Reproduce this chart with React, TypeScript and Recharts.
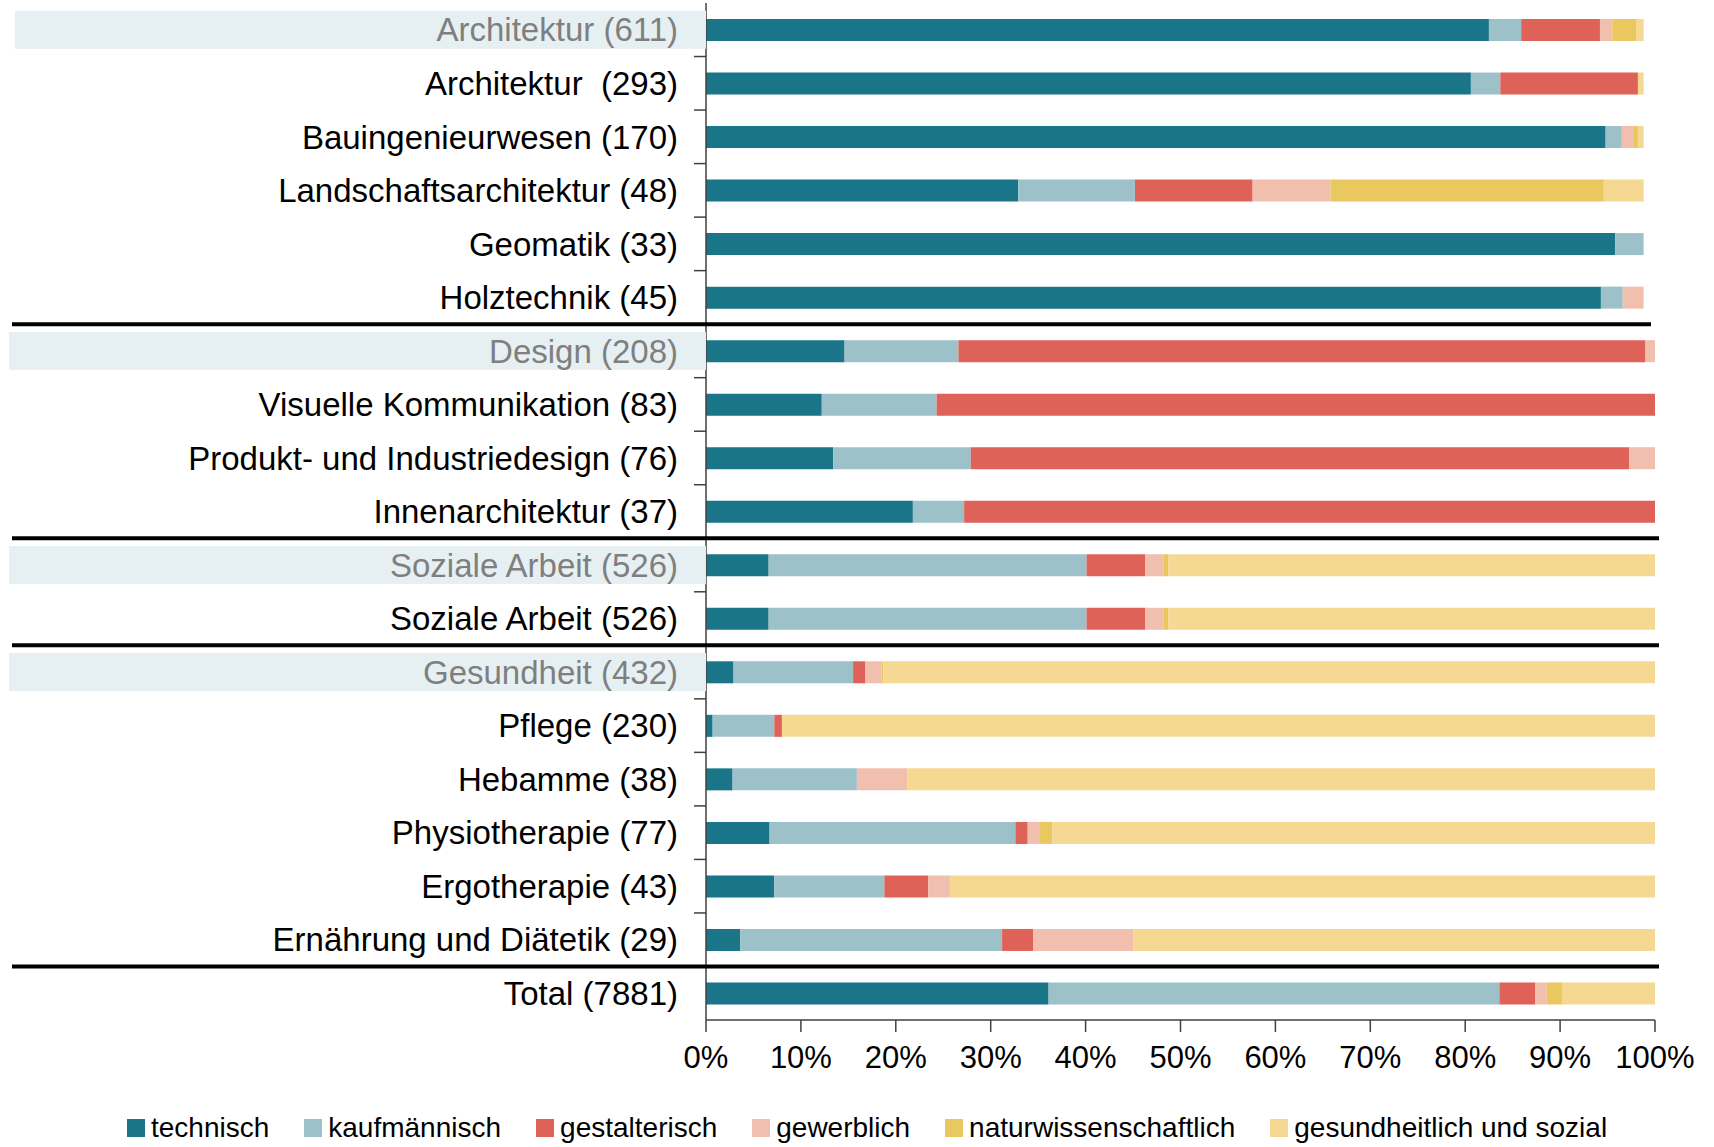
import React from 'react';
import { BarChart, Bar, XAxis, YAxis, Legend } from 'recharts';

const categories = [
  'Architektur (611)',
  'Architektur\u00a0 (293)',
  'Bauingenieurwesen (170)',
  'Landschaftsarchitektur (48)',
  'Geomatik (33)',
  'Holztechnik (45)',
  'Design (208)',
  'Visuelle Kommunikation (83)',
  'Produkt- und Industriedesign (76)',
  'Innenarchitektur (37)',
  'Soziale Arbeit (526)',
  'Soziale Arbeit (526) ',
  'Gesundheit (432)',
  'Pflege (230)',
  'Hebamme (38)',
  'Physiotherapie (77)',
  'Ergotherapie (43)',
  'Ernährung und Diätetik (29)',
  'Total (7881)',
];

const headerRows = [0, 6, 10, 12];
const separatorAfterRows = [5, 9, 11, 17];

const technisch = [82.5, 80.6, 94.8, 32.9, 95.8, 94.3, 14.6, 12.2, 13.4, 21.8, 6.6, 6.6, 2.9, 0.7, 2.8, 6.7, 7.2, 3.6, 36.1];
const kaufmaennisch = [3.4, 3.1, 1.7, 12.3, 3.0, 2.3, 12.0, 12.1, 14.5, 5.4, 33.5, 33.5, 12.6, 6.5, 13.1, 25.9, 11.6, 27.6, 47.5];
const gestalterisch = [8.3, 14.5, 0, 12.4, 0, 0, 72.4, 75.7, 69.4, 72.8, 6.2, 6.2, 1.3, 0.8, 0, 1.3, 4.6, 3.3, 3.8];
const gewerblich = [1.3, 0, 1.2, 8.2, 0, 2.2, 1.0, 0, 2.7, 0, 1.9, 1.9, 1.7, 0, 5.3, 1.3, 2.3, 10.5, 1.2];
const naturwissenschaftlich = [2.5, 0, 0.5, 28.8, 0, 0, 0, 0, 0, 0, 0.5, 0.5, 0.2, 0, 0, 1.3, 0, 0, 1.6];
const gesundheitlich = [0.8, 0.6, 0.6, 4.2, 0, 0, 0, 0, 0, 0, 51.3, 51.3, 81.3, 92.0, 78.8, 63.5, 74.3, 55.0, 9.8];

const xTicks = [0, 10, 20, 30, 40, 50, 60, 70, 80, 90, 100];

const series = [
  { key: 'technisch', label: 'technisch', color: '#1a7588', values: technisch },
  { key: 'kaufmaennisch', label: 'kaufmännisch', color: '#9dc1c9', values: kaufmaennisch },
  { key: 'gestalterisch', label: 'gestalterisch', color: '#df6258', values: gestalterisch },
  { key: 'gewerblich', label: 'gewerblich', color: '#f1bfae', values: gewerblich },
  { key: 'naturwissenschaftlich', label: 'naturwissenschaftlich', color: '#e9c860', values: naturwissenschaftlich },
  { key: 'gesundheitlich', label: 'gesundheitlich und sozial', color: '#f5d892', values: gesundheitlich },
];

const data = categories.map((name, i) => {
  const row: Record<string, any> = { name };
  series.forEach((s) => {
    row[s.key] = s.values[i];
  });
  return row;
});

// layout constants
const W = 1714;
const H = 1147;
const MARGIN = { top: 3, right: 59, left: 0, bottom: 67 };
const X_AXIS_H = 60;
const Y_AXIS_W = 706;
const PLOT_H = H - MARGIN.top - MARGIN.bottom - X_AXIS_H;
const HALF_BAND = PLOT_H / categories.length / 2;
const Y_TICK_SIZE = 6;
const Y_TICK_MARGIN = 22;
const FONT = '"Liberation Sans", Arial, Helvetica, sans-serif';

const CategoryTick = (props: any) => {
  const { x, y, payload, index } = props;
  const axisX = x + Y_TICK_SIZE + Y_TICK_MARGIN;
  const isHeader = headerRows.includes(index);
  const hasSep = separatorAfterRows.includes(index);
  const isLast = index === categories.length - 1;
  const bgLeft = index === 0 ? 15 : 9;
  return (
    <g>
      {isHeader && (
        <rect x={bgLeft} y={y - 19} width={axisX - bgLeft} height={38} fill="#e6f0f2" />
      )}
      <text
        x={x}
        y={y}
        dy="0.355em"
        textAnchor="end"
        fontSize={33}
        fontFamily={FONT}
        fill={isHeader ? '#7f7f7f' : '#000000'}
      >
        {payload.value}
      </text>
      {hasSep ? (
        <line
          x1={12}
          x2={W - MARGIN.right + (index === 5 ? -4 : 4)}
          y1={y + HALF_BAND}
          y2={y + HALF_BAND}
          stroke="#000"
          strokeWidth={4}
        />
      ) : (
        !isLast && (
          <line
            x1={axisX - 12}
            x2={axisX}
            y1={y + HALF_BAND}
            y2={y + HALF_BAND}
            stroke="#404040"
            strokeWidth={1.5}
          />
        )
      )}
    </g>
  );
};

const LegendContent = () => (
  <div
    style={{
      display: 'flex',
      alignItems: 'center',
      fontFamily: FONT,
      fontSize: 28,
      lineHeight: '32px',
      color: '#000',
      whiteSpace: 'nowrap',
    }}
  >
    {series.map((s) => (
      <div key={s.key} style={{ display: 'flex', alignItems: 'center', marginRight: 35 }}>
        <span
          style={{
            display: 'inline-block',
            width: 18,
            height: 18,
            background: s.color,
            marginRight: 6,
          }}
        />
        <span>{s.label}</span>
      </div>
    ))}
  </div>
);

export default function App() {
  return (
    <div style={{ position: 'absolute', left: 0, top: 0, width: W, height: H, background: '#fff' }}>
      <BarChart
        width={W}
        height={H}
        data={data}
        layout="vertical"
        margin={MARGIN}
        barSize={22}
      >
        <XAxis
          type="number"
          domain={[0, 100]}
          ticks={xTicks}
          tickFormatter={(v: number) => `${v}%`}
          tick={{ fontSize: 31, fill: '#000', fontFamily: FONT }}
          tickSize={12}
          tickMargin={14}
          height={X_AXIS_H}
          axisLine={{ stroke: '#404040', strokeWidth: 1.5 }}
          tickLine={{ stroke: '#404040', strokeWidth: 1.5 }}
          interval={0}
        />
        <YAxis
          type="category"
          dataKey="name"
          width={Y_AXIS_W}
          interval={0}
          tickSize={Y_TICK_SIZE}
          tickMargin={Y_TICK_MARGIN}
          tickLine={false}
          axisLine={{ stroke: '#404040', strokeWidth: 1.5 }}
          tick={<CategoryTick />}
        />
        <Legend
          layout="horizontal"
          verticalAlign="middle"
          align="center"
          content={<LegendContent />}
          wrapperStyle={{ left: 127, top: 1112, width: 1580, height: 32 }}
        />
        {series.map((s) => (
          <Bar
            key={s.key}
            dataKey={s.key}
            name={s.label}
            stackId="a"
            fill={s.color}
            isAnimationActive={false}
          />
        ))}
      </BarChart>
    </div>
  );
}
